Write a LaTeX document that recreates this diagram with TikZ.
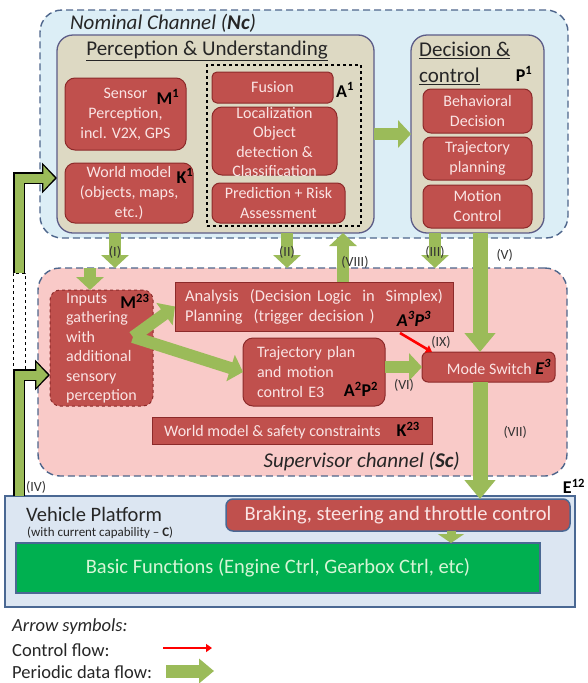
\documentclass[tikz,border=0pt]{standalone}
\usepackage{fontspec}
\setmainfont{Carlito}
\usetikzlibrary{arrows.meta,calc}

\definecolor{ncblue}{RGB}{220,238,246}
\definecolor{chanline}{RGB}{78,102,140}
\definecolor{beige}{RGB}{221,217,195}
\definecolor{beigeline}{RGB}{92,92,135}
\definecolor{boxred}{RGB}{192,80,77}
\definecolor{boxline}{RGB}{140,42,42}
\definecolor{boxtext}{RGB}{250,228,228}
\definecolor{scpink}{RGB}{249,202,200}
\definecolor{flowgreen}{RGB}{155,187,89}
\definecolor{vpblue}{RGB}{220,230,242}
\definecolor{vpline}{RGB}{74,104,147}
\definecolor{basicgreen}{RGB}{0,176,80}
\definecolor{basictext}{RGB}{214,245,214}

\tikzset{
  channel/.style={draw=chanline, dash pattern=on 7pt off 4pt, line width=1.4pt, rounded corners=22pt, outer sep=0pt},
  chantitle/.style={font=\fontsize{21}{24}\selectfont\itshape, text=black!85, inner sep=0pt},
  group/.style={draw=beigeline, fill=beige, line width=1.3pt, rounded corners=16pt, outer sep=0pt},
  grouptitle/.style={font=\fontsize{21}{26}\selectfont, text=black!85, inner sep=0pt, align=left},
  redbox/.style={draw=boxline, fill=boxred, line width=1pt, text=boxtext, font=\fontsize{16}{20}\selectfont, align=center, inner sep=1pt, outer sep=0pt},
  redtext/.style={text=boxtext, font=\fontsize{16}{19.5}\selectfont, align=center, inner sep=0pt},
  tag/.style={font=\fontsize{18}{20}\selectfont\bfseries, text=black, inner sep=0pt},
  lbl/.style={font=\fontsize{14}{16}\selectfont, text=black!80, inner sep=0pt},
  flow/.style={draw=flowgreen, line width=12pt, -{Triangle[length=13pt,width=27pt]}},
  bigflow/.style={draw=flowgreen, line width=15pt, -{Triangle[length=19pt,width=30pt]}},
  smallflow/.style={draw=flowgreen, line width=9pt, -{Triangle[length=9pt,width=26pt]}},
  ctrlflow/.style={draw=red, line width=2.6pt, -{Triangle[length=6pt,width=8pt]}},
  fbout/.style={draw=black, line width=12.5pt, -{Triangle[length=15pt,width=30pt]}},
  fbin/.style={draw=flowgreen, line width=9pt, -{Triangle[length=11.5pt,width=24pt]}, shorten >=2.2pt},
  legend/.style={font=\fontsize{18.5}{20}\selectfont, text=black!85, inner sep=0pt, anchor=west}
}

\begin{document}
\begin{tikzpicture}[x=1pt,y=-1pt]
\useasboundingbox (0,0) rectangle (587,683);

\node[channel, fill=ncblue, minimum width=528pt, minimum height=228pt] (nc) at (304,124) {};
\node[chantitle, anchor=west] (nctitle) at (70,23) {Nominal Channel (\textbf{Nc})};

\node[group, minimum width=317pt, minimum height=198pt] (pu) at (215.5,134) {};
\node[grouptitle] (putitle) at (207,51) {\underline{Perception \& Understanding}};
\node[draw=black, dashed, line width=1.3pt, minimum width=154pt, minimum height=161pt, outer sep=0pt] (abox) at (284,145.5) {};

\node[redbox, rounded corners=10pt, minimum width=121pt, minimum height=72pt] (sensor) at (125.5,114) {Sensor\\Perception,\\incl. V2X, GPS};
\node[tag] (msens) at (168,97) {M\textsuperscript{1}};
\node[redbox, rounded corners=10pt, minimum width=128pt, minimum height=60pt] (world) at (129,193) {World model\\(objects, maps,\\etc.)};
\node[tag] (kworld) at (185,176) {K\textsuperscript{1}};

\node[redbox, rounded corners=5pt, minimum width=121pt, minimum height=31pt] (fusion) at (272.5,87.5) {Fusion};
\node[tag] (afus) at (345,90) {A\textsuperscript{1}};
\node[redbox, rounded corners=10pt, minimum width=125pt, minimum height=68pt] (loc) at (274.5,141) {};
\node[redtext] (loctext) at (274.5,142) {Localization\\Object\\detection \&\\Classification};
\node[redbox, rounded corners=8pt, minimum width=133pt, minimum height=40pt] (pred) at (278.5,203) {Prediction + Risk\\Assessment};

\node[group, minimum width=133pt, minimum height=198pt] (dc) at (477.5,134) {};
\node[grouptitle, anchor=west] (dctitle) at (419,63) {\underline{Decision \&}\\\underline{control}};
\node[tag] (pdc) at (524,74) {P\textsuperscript{1}};
\node[redbox, rounded corners=8pt, minimum width=109pt, minimum height=44pt] (behav) at (477.5,111) {Behavioral\\Decision};
\node[redbox, rounded corners=8pt, minimum width=109pt, minimum height=43pt] (trajp) at (477.5,158.5) {Trajectory\\planning};
\node[redbox, rounded corners=8pt, minimum width=109pt, minimum height=43pt] (motion) at (477.5,206.5) {Motion\\Control};

\draw[flow] (pu.east) -- (dc.west);

\node[channel, fill=scpink, minimum width=529pt, minimum height=208pt] (sc) at (302.5,372) {};
\node[chantitle, anchor=east] (sctitle) at (460,462) {Supervisor channel (\textbf{Sc})};

\node[redbox, dashed, rounded corners=10pt, minimum width=103pt, minimum height=116pt, align=left, font=\fontsize{16}{19.5}\selectfont, inner ysep=0pt] (inputs) at (101.5,348) {Inputs\\gathering\\with\\additional\\sensory\\perception};
\node[tag] (minp) at (135,301) {M\textsuperscript{23}};

\node[redbox, minimum width=278pt, minimum height=49pt, text width=258pt, inner xsep=10pt, align=left, font=\fontsize{16.5}{20}\selectfont] (analysis) at (314,306.5) {Analysis\ \ (Decision Logic\ \ in\ \ Simplex)\\Planning\ \ (trigger decision )};
\node[tag] (aana) at (414,319) {\textit{A\textsuperscript{3}P\textsuperscript{3}}};

\node[redbox, rounded corners=10pt, minimum width=142pt, minimum height=68pt, text width=114pt, inner xsep=14pt, align=left] (trajplan) at (314,372) {Trajectory plan\\and motion\\control E3};
\node[tag] (atraj) at (361,389) {A\textsuperscript{2}P\textsuperscript{2}};

\node[redbox, minimum width=280pt, minimum height=27pt] (wmsafety) at (292,430.5) {World model \& safety constraints\quad\textcolor{black}{\fontsize{18}{20}\selectfont\bfseries K\textsuperscript{23}}};

\node[redbox, rounded corners=6pt, minimum width=133pt, minimum height=30pt] (mode) at (488.5,367) {};
\node[redtext] (modetext) at (499,367) {Mode Switch \textcolor{black}{\fontsize{18}{20}\selectfont\bfseries\itshape E\textsuperscript{3}}};

\coordinate (xI) at (115,0);
\coordinate (xII) at (287,0);
\coordinate (xIII) at (435,0);
\coordinate (xVIII) at (343,0);
\coordinate (xV) at (480,0);
\coordinate (xS) at (90,0);
\coordinate (xB) at (451,0);
\coordinate (fork) at (133,337);

\draw[flow] (xI |- pu.south) -- (xI |- sc.north) node[lbl, pos=0.55] {(I)};
\draw[flow] (xII |- pu.south) -- (xII |- sc.north) node[lbl, pos=0.55] {(II)};
\draw[flow] (xIII |- dc.south) -- (xIII |- sc.north) node[lbl, pos=0.55] {(III)};
\draw[flow] (xVIII |- analysis.north) -- (xVIII |- pu.south) node[lbl, pos=0.4, xshift=12pt] {(VIII)};
\draw[flow] (xS |- sc.north) -- (xS |- inputs.north);
\draw[flow] (fork) -- (analysis.west);
\draw[flow] (fork) -- (trajplan.west);
\draw[flow] (trajplan.east |- mode.west) -- (mode.west);
\node[lbl] (lvi) at (404,385) {(VI)};
\draw[ctrlflow] ($(analysis.south east)+(-53,2)$) -- ($(mode.north west)+(10,0)$);
\node[lbl] (lix) at (441,342) {(IX)};
\draw[bigflow] (xV |- dc.south) -- (xV |- mode.north) node[lbl, pos=0.185, anchor=west, xshift=9pt] {(V)};

\node[draw=vpline, fill=vpblue, line width=1.5pt, minimum width=570pt, minimum height=111pt, outer sep=0pt] (vp) at (290,551.5) {};
\node[grouptitle, font=\fontsize{20.5}{24}\selectfont, anchor=west] (vptitle) at (26,514) {Vehicle Platform};
\node[grouptitle, font=\fontsize{13}{15}\selectfont, anchor=west] (vpsub) at (27,533) {(with current capability -- \textbf{C})};
\node[tag] (evp) at (574,486) {E\textsuperscript{12}};
\node[redbox, draw=vpline, line width=1.5pt, rounded corners=7pt, minimum width=344pt, minimum height=32pt, font=\fontsize{20.5}{24}\selectfont] (brake) at (398,515) {Braking, steering and throttle control};
\node[draw=vpline, fill=basicgreen, line width=1.5pt, minimum width=524pt, minimum height=50pt, text=basictext, font=\fontsize{20.5}{24}\selectfont, outer sep=0pt] (basic) at (278,568) {Basic Functions (Engine Ctrl, Gearbox Ctrl, etc)};

\draw[bigflow] (mode.south -| xV) -- (xV |- brake.north) node[lbl, pos=0.43, anchor=west, xshift=16pt] {(VII)};
\draw[smallflow] (xB |- brake.south) -- (xB |- basic.north);

\coordinate (fbx) at (19,0);
\coordinate (fbgap) at (19,273);
\coordinate (fbtop) at (57,178);
\draw[fbout] (fbx |- vp.north) |- ($(inputs.west)+(0,27)$);
\draw[fbin] (fbx |- vp.north) |- ($(inputs.west)+(0,27)$);
\draw[fbout] (fbgap) |- (fbtop);
\draw[fbin] (fbgap) |- (fbtop);
\node[draw=black, dashed, fill=white, line width=1pt, minimum width=12pt, minimum height=96pt, outer sep=0pt] (fbdash) at (19,321) {};
\node[lbl, anchor=west] (liv) at (26,487) {(IV)};

\node[legend] (legtitle) at (12,627) {\textit{Arrow symbols:}};
\node[legend] (legctrl) at (12,650) {Control flow:};
\node[legend] (legflow) at (12,672) {Periodic data flow:};
\coordinate (ctrla) at (163,648);
\coordinate (ctrlb) at (212,648);
\coordinate (flowa) at (166,671);
\coordinate (flowb) at (214,671);
\draw[ctrlflow] (ctrla) -- (ctrlb);
\draw[flow, line width=13pt, -{Triangle[length=15pt,width=24pt]}] (flowa) -- (flowb);
\end{tikzpicture}
\end{document}
